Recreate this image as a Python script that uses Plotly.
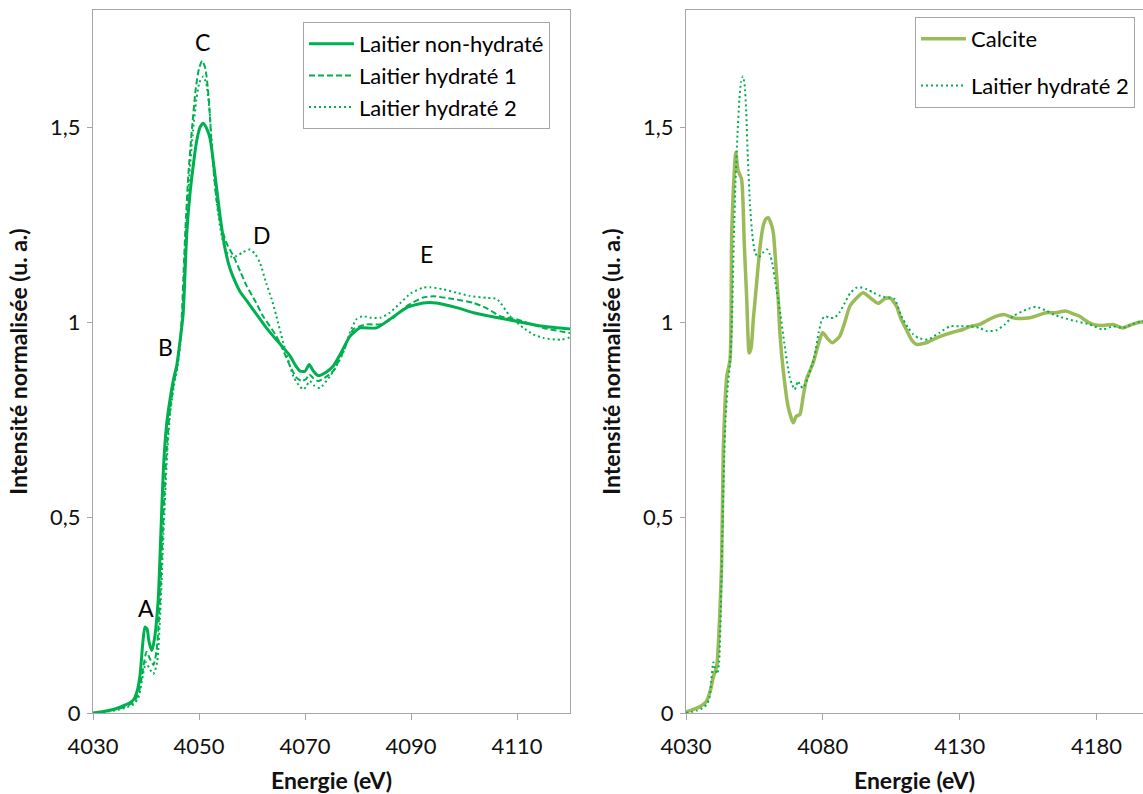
import plotly.graph_objects as go

# ---------------- data ----------------
E_nonhyd = [4030.0, 4032.0, 4034.0, 4036.0, 4037.6, 4038.4, 4038.9, 4039.4, 4039.8, 4040.2, 4040.6, 4041.1,
            4041.6, 4042.3, 4042.8, 4043.3, 4043.9, 4044.5, 4045.2, 4045.8, 4046.4, 4047.0, 4047.7, 4048.3,
            4048.9, 4049.5, 4050.2, 4050.8, 4051.5, 4052.1, 4053.0, 4054.0, 4054.9, 4055.8, 4056.8, 4057.7,
            4059.3, 4060.9, 4062.5, 4064.0, 4065.6, 4067.2, 4068.2, 4069.1, 4070.0, 4070.8, 4071.6, 4072.5,
            4073.9, 4075.3, 4076.9, 4078.5, 4080.4, 4083.5, 4086.0, 4089.2, 4092.3, 4094.8, 4098.6, 4101.8,
            4104.9, 4109.9, 4115.0, 4120.0]
I_nonhyd = [0.000, 0.004, 0.010, 0.020, 0.033, 0.060, 0.100, 0.180, 0.220, 0.215, 0.180, 0.160,
            0.190, 0.290, 0.460, 0.630, 0.740, 0.800, 0.855, 0.890, 0.950, 1.020, 1.230, 1.330,
            1.400, 1.460, 1.500, 1.510, 1.495, 1.470, 1.380, 1.270, 1.190, 1.140, 1.105, 1.080,
            1.050, 1.020, 0.990, 0.965, 0.940, 0.914, 0.890, 0.875, 0.875, 0.892, 0.875, 0.864,
            0.872, 0.888, 0.925, 0.965, 0.986, 0.986, 1.008, 1.038, 1.050, 1.050, 1.038, 1.025,
            1.016, 1.003, 0.990, 0.983]

E_hyd1 = [4030.0, 4034.0, 4036.0, 4037.6, 4038.6, 4039.4, 4040.1, 4040.7, 4041.4, 4042.0, 4042.6, 4043.2,
          4043.8, 4044.4, 4045.2, 4045.9, 4046.6, 4047.4, 4048.0, 4048.7, 4049.4, 4050.0, 4050.6, 4051.2,
          4051.8, 4052.5, 4053.3, 4054.3, 4055.3, 4056.5, 4057.8, 4059.0, 4060.6, 4062.1, 4064.6, 4066.0,
          4067.2, 4068.3, 4069.4, 4070.2, 4070.8, 4071.6, 4072.5, 4073.9, 4075.3, 4077.2, 4079.1, 4081.6,
          4084.2, 4086.5, 4089.0, 4092.3, 4094.2, 4098.0, 4101.8, 4104.5, 4106.8, 4109.9, 4115.0, 4120.0]
I_hyd1 = [0.000, 0.008, 0.016, 0.027, 0.050, 0.110, 0.157, 0.140, 0.123, 0.160, 0.280, 0.480,
          0.650, 0.760, 0.840, 0.890, 0.980, 1.230, 1.380, 1.500, 1.600, 1.650, 1.670, 1.650,
          1.580, 1.430, 1.315, 1.240, 1.200, 1.170, 1.130, 1.093, 1.055, 1.016, 0.965, 0.925,
          0.888, 0.860, 0.850, 0.855, 0.867, 0.857, 0.850, 0.860, 0.875, 0.925, 0.982, 0.995,
          0.995, 1.010, 1.040, 1.064, 1.067, 1.060, 1.050, 1.035, 1.016, 1.008, 0.986, 0.973]

E_hyd2 = [4030.0, 4034.0, 4036.0, 4037.6, 4038.6, 4039.2, 4040.0, 4040.6, 4041.4, 4042.1, 4042.7, 4043.3,
          4043.9, 4044.5, 4045.3, 4046.0, 4046.7, 4047.5, 4048.1, 4048.8, 4049.5, 4050.1, 4050.8, 4051.4,
          4052.0, 4052.6, 4053.4, 4054.3, 4055.2, 4056.2, 4057.1, 4058.3, 4059.6, 4060.6, 4061.5, 4062.7,
          4063.7, 4064.6, 4065.9, 4067.8, 4068.8, 4069.7, 4070.3, 4070.9, 4071.8, 4072.8, 4074.7, 4076.0,
          4077.2, 4078.5, 4079.7, 4080.9, 4082.5, 4084.2, 4086.0, 4088.0, 4090.0, 4092.3, 4093.6, 4096.0,
          4098.6, 4101.0, 4104.3, 4106.2, 4108.7, 4111.2, 4113.0, 4115.0, 4118.4, 4120.0, 4122.7, 4126.4,
          4130.0, 4133.6, 4137.3, 4139.7, 4143.4, 4146.5, 4149.5, 4154.4, 4158.0, 4161.6, 4164.5, 4167.7,
          4172.6, 4177.5, 4182.3, 4186.0, 4189.6, 4193.0, 4196.3, 4197.0]
I_hyd2 = [0.000, 0.006, 0.013, 0.022, 0.040, 0.080, 0.130, 0.115, 0.100, 0.130, 0.260, 0.460,
          0.640, 0.760, 0.840, 0.890, 0.980, 1.220, 1.360, 1.480, 1.570, 1.615, 1.630, 1.610,
          1.540, 1.420, 1.300, 1.220, 1.180, 1.168, 1.170, 1.180, 1.187, 1.175, 1.153, 1.100,
          1.060, 1.016, 0.948, 0.862, 0.840, 0.828, 0.838, 0.850, 0.838, 0.832, 0.862, 0.890,
          0.922, 0.975, 1.008, 1.016, 1.012, 1.012, 1.025, 1.050, 1.075, 1.089, 1.090, 1.085,
          1.076, 1.068, 1.063, 1.060, 1.016, 0.986, 0.970, 0.960, 0.956, 0.962, 0.974, 0.990,
          0.990, 0.990, 0.986, 0.978, 0.980, 0.995, 1.016, 1.033, 1.040, 1.030, 1.020, 1.012,
          1.003, 0.995, 0.982, 0.990, 0.986, 0.995, 1.003, 1.003]

E_calcite = [4030.0, 4033.0, 4035.5, 4037.5, 4039.0, 4040.0, 4041.2, 4042.0, 4043.0, 4043.6, 4044.3, 4044.9,
             4046.1, 4046.7, 4047.3, 4048.2, 4049.0, 4050.3, 4051.3, 4052.2, 4053.1, 4053.8, 4054.6, 4055.8,
             4057.0, 4058.2, 4059.2, 4060.0, 4061.0, 4061.9, 4062.8, 4063.7, 4064.3, 4065.5, 4067.3, 4069.2,
             4070.3, 4071.6, 4072.8, 4074.0, 4076.5, 4078.2, 4079.9, 4081.8, 4083.5, 4086.2, 4088.0, 4089.9,
             4092.0, 4094.7, 4097.5, 4100.2, 4102.5, 4104.5, 4106.9, 4108.5, 4110.5, 4112.5, 4114.2, 4117.8,
             4120.5, 4123.9, 4127.5, 4131.2, 4134.0, 4137.3, 4140.0, 4143.4, 4146.4, 4149.5, 4152.5, 4155.6,
             4158.5, 4161.6, 4165.0, 4168.9, 4171.5, 4173.8, 4176.0, 4178.7, 4182.0, 4186.0, 4189.6, 4193.0,
             4196.3, 4197.0]
I_calcite = [0.003, 0.010, 0.018, 0.030, 0.060, 0.093, 0.119, 0.200, 0.375, 0.666, 0.800, 0.862,
             0.905, 1.230, 1.340, 1.435, 1.390, 1.367, 1.200, 1.059, 0.922, 0.935, 1.008, 1.100,
             1.190, 1.247, 1.265, 1.268, 1.255, 1.230, 1.150, 1.059, 0.974, 0.880, 0.785, 0.743,
             0.760, 0.764, 0.810, 0.854, 0.897, 0.940, 0.974, 0.958, 0.948, 0.965, 1.000, 1.042,
             1.060, 1.076, 1.062, 1.049, 1.060, 1.063, 1.042, 1.010, 0.982, 0.955, 0.944, 0.948,
             0.957, 0.967, 0.975, 0.982, 0.990, 0.995, 1.005, 1.016, 1.020, 1.012, 1.010, 1.012,
             1.018, 1.025, 1.025, 1.029, 1.022, 1.016, 1.005, 0.995, 0.992, 0.995, 0.986, 0.995,
             1.001, 1.001]

peak_labels = ["A", "B", "C", "D", "E"]
peak_E = [4040.0, 4043.6, 4050.75, 4061.9, 4093.0]
peak_I = [0.269, 0.938, 1.718, 1.223, 1.174]

y_ticks = [0, 0.5, 1, 1.5]
y_ticktext = ["0", "0,5", "1", "1,5"]

# ---------------- styling ----------------
GREEN = "#00B050"
OLIVE = "#9BBB59"
FRAME = "#A6A6A6"
FONT = "Lato, 'Open Sans', sans-serif"
TXT = "#111111"
W, H = 1143, 794
DASH = "6px,3px"
DOT = "2px,3px"

fig = go.Figure()
fig.add_trace(go.Scatter(x=E_nonhyd, y=I_nonhyd, mode="lines", name="Laitier non-hydraté",
                         line=dict(color=GREEN, width=3, shape="spline", smoothing=0.6),
                         xaxis="x", yaxis="y", legend="legend", legendgroup="a"))
fig.add_trace(go.Scatter(x=E_hyd1, y=I_hyd1, mode="lines", name="Laitier hydraté 1",
                         line=dict(color=GREEN, width=2, dash=DASH, shape="spline", smoothing=0.6),
                         xaxis="x", yaxis="y", legend="legend", legendgroup="b"))
fig.add_trace(go.Scatter(x=E_hyd2, y=I_hyd2, mode="lines", name="Laitier hydraté 2",
                         line=dict(color=GREEN, width=2, dash=DOT, shape="spline", smoothing=0.6),
                         xaxis="x", yaxis="y", legend="legend", legendgroup="c"))
fig.add_trace(go.Scatter(x=E_calcite, y=I_calcite, mode="lines", name="Calcite",
                         line=dict(color=OLIVE, width=3.5, shape="spline", smoothing=0.6),
                         xaxis="x2", yaxis="y2", legend="legend2", legendgroup="d"))
fig.add_trace(go.Scatter(x=E_hyd2, y=I_hyd2, mode="lines", name="Laitier hydraté 2",
                         line=dict(color=GREEN, width=2, dash=DOT, shape="spline", smoothing=0.6),
                         xaxis="x2", yaxis="y2", legend="legend2", legendgroup="e"))

for lab, ex, iy in zip(peak_labels, peak_E, peak_I):
    fig.add_annotation(x=ex, y=iy, xref="x", yref="y", text=lab, showarrow=False,
                       font=dict(family=FONT, size=23, color="#000000"))

y_top = 1 - 10 / H
y_bot = 1 - 713 / H

common_x = dict(showline=True, linecolor=FRAME, linewidth=1, mirror=True, showgrid=False, zeroline=False,
                automargin=False, ticks="outside", ticklen=6, tickcolor=FRAME,
                tickfont=dict(family=FONT, size=22, color=TXT), ticklabelstandoff=8,
                title=dict(text="<b>Energie (eV)</b>", font=dict(family=FONT, size=23, color=TXT),
                           standoff=15))
common_y = dict(showline=True, linecolor=FRAME, linewidth=1, mirror=True, showgrid=False, zeroline=False,
                automargin=False, ticks="outside", ticklen=5, tickcolor=FRAME, range=[0, 1.8],
                tickvals=y_ticks, ticktext=y_ticktext,
                tickfont=dict(family=FONT, size=22, color=TXT), ticklabelstandoff=2,
                title=dict(text="<b>Intensité normalisée (u. a.)</b>",
                           font=dict(family=FONT, size=23, color=TXT), standoff=16))

fig.update_layout(
    width=W, height=H,
    margin=dict(l=0, r=0, t=0, b=0, autoexpand=False),
    paper_bgcolor="white", plot_bgcolor="white",
    font=dict(family=FONT),
    xaxis=dict(domain=[93 / W, 570 / W], range=[4030, 4120], tick0=4030, dtick=20, anchor="y", **common_x),
    yaxis=dict(domain=[y_bot, y_top], anchor="x", **common_y),
    xaxis2=dict(domain=[686 / W, 1.0], range=[4030, 4197], tick0=4030, dtick=50, anchor="y2", **common_x),
    yaxis2=dict(domain=[y_bot, y_top], anchor="x2", **common_y),
    legend=dict(x=303 / W, y=1 - 22 / H, xanchor="left", yanchor="top",
                bordercolor=FRAME, borderwidth=1, bgcolor="white",
                font=dict(family=FONT, size=22, color="#000000"),
                traceorder="normal", itemwidth=45),
    legend2=dict(x=915 / W, y=1 - 17 / H, xanchor="left", yanchor="top",
                 bordercolor=FRAME, borderwidth=1, bgcolor="white",
                 font=dict(family=FONT, size=22, color="#000000"),
                 traceorder="grouped", tracegroupgap=15, itemwidth=45),
    showlegend=True,
)

fig.write_html("out.html", config={"displayModeBar": False},
               post_script="document.body.style.margin='0px';")
